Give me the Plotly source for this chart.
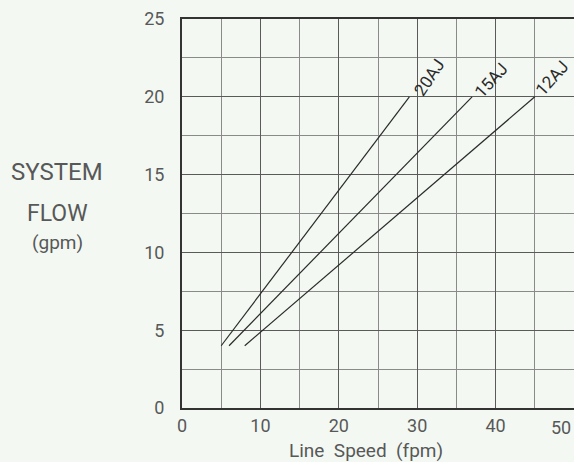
import plotly.graph_objects as go

# Data: line speed (fpm) vs system flow (gpm)
series_names = ["20AJ", "15AJ", "12AJ"]
speed_20aj = [5, 29]
flow_20aj = [4, 20]
speed_15aj = [6, 37]
flow_15aj = [4, 20]
speed_12aj = [8, 45]
flow_12aj = [4, 20]

x_ticks = [0, 10, 20, 30, 40, 50]
y_ticks = [0, 5, 10, 15, 20, 25]

bg = "#f3f8f3"
ink = "#2a2a2a"
txt = "#585858"
font_family = "Roboto, Liberation Sans, Arial, sans-serif"

W, H = 574, 462
L, R, T, B = 182, 0, 19, 54
pw, ph = W - L - R, H - T - B

fig = go.Figure()
series = [
    (series_names[0], speed_20aj, flow_20aj, 56, 20, 20),
    (series_names[1], speed_15aj, flow_15aj, 48, 19, 17),
    (series_names[2], speed_12aj, flow_12aj, 48, 17, 19),
]
for name, xs, ys, ang, xs_, ys_ in series:
    fig.add_trace(go.Scatter(x=xs, y=ys, mode="lines", name=name,
                             line=dict(color=ink, width=1.2), showlegend=False,
                             hoverinfo="skip"))
    fig.add_annotation(x=xs[-1], y=ys[-1], text=name, showarrow=False,
                       textangle=-ang, xshift=xs_, yshift=ys_,
                       font=dict(size=17, color=ink, family=font_family))

axis_common = dict(showline=True, linecolor="#333333", linewidth=2, mirror=True,
                   showgrid=True, gridcolor="#5a5a5a", gridwidth=1,
                   zeroline=False, ticks="", automargin=False, fixedrange=True,
                   tickfont=dict(size=18, color=txt, family=font_family))

# last x tick label drawn as annotation so it is not clipped at the right edge
fig.update_xaxes(range=[0, 50], tickvals=x_ticks[:-1], ticklabelstandoff=0,
                 minor=dict(dtick=5, showgrid=True, gridcolor="#8a8a8a", gridwidth=1),
                 **axis_common)
fig.update_yaxes(range=[0, 25], tickvals=y_ticks, ticklabelstandoff=12,
                 minor=dict(dtick=2.5, showgrid=True, gridcolor="#8a8a8a", gridwidth=1),
                 **axis_common)

fig.add_annotation(x=x_ticks[-1], xref="x", yref="paper", y=(408 - 427) / ph,
                   text=str(x_ticks[-1]), showarrow=False, xanchor="right",
                   yanchor="middle", xshift=-1,
                   font=dict(size=18, color=txt, family=font_family))

# x-axis title
fig.add_annotation(xref="paper", yref="paper", x=(366 - L) / pw, y=(408 - 450) / ph,
                   text="Line  Speed  (fpm)", showarrow=False, xanchor="center",
                   yanchor="middle", font=dict(size=19, color=txt, family=font_family))

# Multi-line y-axis title
for t, ypix, size in [("SYSTEM", 172, 24), ("FLOW", 213, 23), ("(gpm)", 242, 19)]:
    fig.add_annotation(xref="paper", yref="paper",
                       x=(57 - L) / pw, y=(408 - ypix) / ph,
                       text=t, showarrow=False, xanchor="center", yanchor="middle",
                       font=dict(size=size, color=txt, family=font_family))

fig.update_layout(width=W, height=H,
                  margin=dict(l=L, r=R, t=T, b=B),
                  paper_bgcolor=bg, plot_bgcolor=bg)

fig.write_html("out.html", config={"displayModeBar": False},
               post_script="document.body.style.margin='0';"
                           "document.body.style.overflow='hidden';"
                           "document.body.style.background='" + bg + "';")
